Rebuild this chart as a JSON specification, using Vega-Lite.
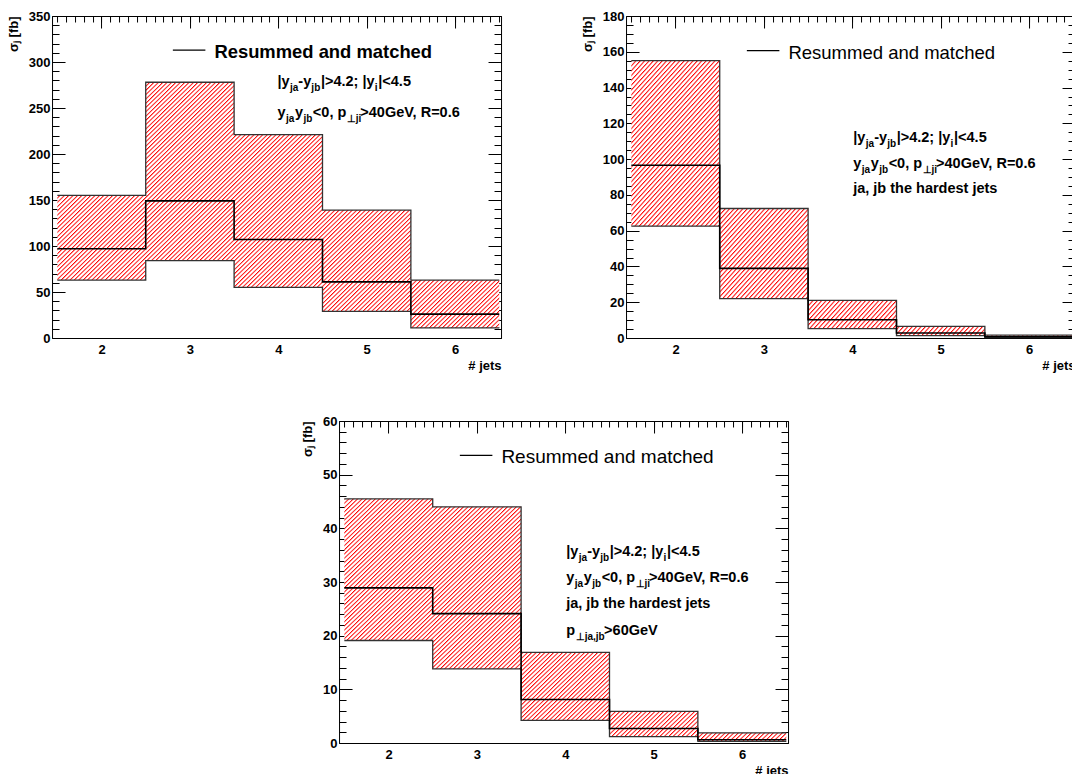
{
"$schema":"https://vega.github.io/schema/vega-lite/v6.json",
"background":"white",
"padding":{"left":6,"top":9,"right":0,"bottom":0},
"datasets":{
"h":[
{"p":1,"n":2,"lo":1.5,"hi":2.5,"up":155,"c":97,"dn":63},
{"p":1,"n":3,"lo":2.5,"hi":3.5,"up":278,"c":149,"dn":84},
{"p":1,"n":4,"lo":3.5,"hi":4.5,"up":221,"c":107,"dn":55},
{"p":1,"n":5,"lo":4.5,"hi":5.5,"up":139,"c":61,"dn":29},
{"p":1,"n":6,"lo":5.5,"hi":6.5,"up":63,"c":26,"dn":11},
{"p":2,"n":2,"lo":1.5,"hi":2.5,"up":155,"c":96.6,"dn":62.5},
{"p":2,"n":3,"lo":2.5,"hi":3.5,"up":72.4,"c":38.9,"dn":22},
{"p":2,"n":4,"lo":3.5,"hi":4.5,"up":21,"c":10.2,"dn":5.2},
{"p":2,"n":5,"lo":4.5,"hi":5.5,"up":6.5,"c":2.8,"dn":1.3},
{"p":2,"n":6,"lo":5.5,"hi":6.5,"up":1.6,"c":0.7,"dn":0.2},
{"p":3,"n":2,"lo":1.5,"hi":2.5,"up":45.5,"c":28.9,"dn":19.1},
{"p":3,"n":3,"lo":2.5,"hi":3.5,"up":44,"c":24.1,"dn":13.8},
{"p":3,"n":4,"lo":3.5,"hi":4.5,"up":16.9,"c":8.1,"dn":4.2},
{"p":3,"n":5,"lo":4.5,"hi":5.5,"up":5.9,"c":2.7,"dn":1.2},
{"p":3,"n":6,"lo":5.5,"hi":6.5,"up":1.9,"c":0.6,"dn":0.3}
],
"ann":[
{"p":1,"x":3.99,"y":274,"t":"|y","s":0},
{"p":1,"x":4.131,"y":274,"t":"ja","s":1},
{"p":1,"x":4.227,"y":274,"t":"-y","s":0},
{"p":1,"x":4.374,"y":274,"t":"jb","s":1},
{"p":1,"x":4.482,"y":274,"t":"|>4.2; |y","s":0},
{"p":1,"x":5.092,"y":274,"t":"i","s":1},
{"p":1,"x":5.131,"y":274,"t":"|<4.5","s":0},
{"p":1,"x":3.99,"y":240,"t":"y","s":0},
{"p":1,"x":4.086,"y":240,"t":"ja","s":1},
{"p":1,"x":4.188,"y":240,"t":"y","s":0},
{"p":1,"x":4.284,"y":240,"t":"jb","s":1},
{"p":1,"x":4.391,"y":240,"t":"<0, p","s":0},
{"p":1,"x":4.775,"y":240,"t":"⊥ji","s":1},
{"p":1,"x":4.928,"y":240,"t":">40GeV, R=0.6","s":0},
{"p":2,"x":4.01,"y":109.7,"t":"|y","s":0},
{"p":2,"x":4.151,"y":109.7,"t":"ja","s":1},
{"p":2,"x":4.247,"y":109.7,"t":"-y","s":0},
{"p":2,"x":4.394,"y":109.7,"t":"jb","s":1},
{"p":2,"x":4.502,"y":109.7,"t":"|>4.2; |y","s":0},
{"p":2,"x":5.112,"y":109.7,"t":"i","s":1},
{"p":2,"x":5.151,"y":109.7,"t":"|<4.5","s":0},
{"p":2,"x":4.01,"y":95.2,"t":"y","s":0},
{"p":2,"x":4.106,"y":95.2,"t":"ja","s":1},
{"p":2,"x":4.208,"y":95.2,"t":"y","s":0},
{"p":2,"x":4.304,"y":95.2,"t":"jb","s":1},
{"p":2,"x":4.411,"y":95.2,"t":"<0, p","s":0},
{"p":2,"x":4.795,"y":95.2,"t":"⊥ji","s":1},
{"p":2,"x":4.948,"y":95.2,"t":">40GeV, R=0.6","s":0},
{"p":2,"x":4.01,"y":80.9,"t":"ja, jb the hardest jets","s":0},
{"p":3,"x":4.01,"y":34.8,"t":"|y","s":0},
{"p":3,"x":4.151,"y":34.8,"t":"ja","s":1},
{"p":3,"x":4.247,"y":34.8,"t":"-y","s":0},
{"p":3,"x":4.394,"y":34.8,"t":"jb","s":1},
{"p":3,"x":4.502,"y":34.8,"t":"|>4.2; |y","s":0},
{"p":3,"x":5.112,"y":34.8,"t":"i","s":1},
{"p":3,"x":5.151,"y":34.8,"t":"|<4.5","s":0},
{"p":3,"x":4.01,"y":30.0,"t":"y","s":0},
{"p":3,"x":4.106,"y":30.0,"t":"ja","s":1},
{"p":3,"x":4.208,"y":30.0,"t":"y","s":0},
{"p":3,"x":4.304,"y":30.0,"t":"jb","s":1},
{"p":3,"x":4.411,"y":30.0,"t":"<0, p","s":0},
{"p":3,"x":4.795,"y":30.0,"t":"⊥ji","s":1},
{"p":3,"x":4.948,"y":30.0,"t":">40GeV, R=0.6","s":0},
{"p":3,"x":4.01,"y":25.2,"t":"ja, jb the hardest jets","s":0},
{"p":3,"x":4.01,"y":20.1,"t":"p","s":0},
{"p":3,"x":4.117,"y":20.1,"t":"⊥ja,jb","s":1},
{"p":3,"x":4.439,"y":20.1,"t":">60GeV","s":0}
]
},
"vconcat":[
{"hconcat":[
{
"width":449,"height":322,
"data":{"name":"h"},
"transform":[{"filter":"datum.p==1"},{"fold":["lo","hi"],"as":["edge","xe"]}],
"resolve":{"axis":{"x":"independent","y":"independent"}},
"layer":[
{"mark":{"type":"area"},
"encoding":{
"x":{"field":"xe","type":"quantitative","scale":{"domain":[1.44,6.52],"nice":false,"zero":false},"axis":{"orient":"bottom","values":[2,3,4,5,6],"ticks":false,"tickSize":0,"labelPadding":5,"title":"# jets","titleAnchor":"end","titlePadding":3}},
"y":{"field":"up","type":"quantitative","scale":{"domain":[0,350],"nice":false,"zero":false},"axis":{"orient":"left","values":[0,50,100,150,200,250,300,350],"offset":-13,"tickSize":13,"labelPadding":2,"title":"σⱼ [fb]","titleAnchor":"end","titlePadding":8}},
"y2":{"field":"dn"},
"order":{"value":null}}},
{"mark":{"type":"line","color":"#333","strokeWidth":1.3},
"encoding":{
"x":{"field":"xe","type":"quantitative","axis":{"orient":"top","values":[2,3,4,5,6],"offset":-12,"tickSize":12,"labels":false,"title":null}},
"y":{"field":"up","type":"quantitative","axis":{"orient":"left","values":[0,10,20,30,40,50,60,70,80,90,100,110,120,130,140,150,160,170,180,190,200,210,220,230,240,250,260,270,280,290,300,310,320,330,340,350],"offset":-7,"tickSize":7,"labels":false,"title":null}},
"order":{"value":null}}},
{"mark":{"type":"line","color":"#333","strokeWidth":1.3},
"encoding":{
"x":{"field":"xe","type":"quantitative","axis":{"orient":"top","values":[1.5,1.6,1.7,1.8,1.9,2,2.1,2.2,2.3,2.4,2.5,2.6,2.7,2.8,2.9,3,3.1,3.2,3.3,3.4,3.5,3.6,3.7,3.8,3.9,4,4.1,4.2,4.3,4.4,4.5,4.6,4.7,4.8,4.9,5,5.1,5.2,5.3,5.4,5.5,5.6,5.7,5.8,5.9,6,6.1,6.2,6.3,6.4,6.5],"offset":-6,"tickSize":6,"labels":false,"title":null}},
"y":{"field":"dn","type":"quantitative","axis":{"orient":"right","values":[0,50,100,150,200,250,300,350],"offset":-13,"tickSize":13,"labels":false,"title":null}},
"order":{"value":null}}},
{"mark":{"type":"line","color":"#000","strokeWidth":1.6},
"encoding":{
"x":{"field":"xe","type":"quantitative","axis":null},
"y":{"field":"c","type":"quantitative","axis":{"orient":"right","values":[0,10,20,30,40,50,60,70,80,90,100,110,120,130,140,150,160,170,180,190,200,210,220,230,240,250,260,270,280,290,300,310,320,330,340,350],"offset":-7,"tickSize":7,"labels":false,"title":null}},
"order":{"value":null}}},
{"data":{"values":[{}]},"mark":{"type":"rule","color":"#000","strokeWidth":1.3},"encoding":{"x":{"datum":2.807,"type":"quantitative","axis":null},"x2":{"datum":3.175},"y":{"datum":313,"type":"quantitative","axis":null}}},
{"data":{"values":[{}]},"mark":{"type":"text","text":"Resummed and matched","align":"left","baseline":"alphabetic","fontSize":18.4},"encoding":{"x":{"datum":3.277,"type":"quantitative","axis":null},"y":{"datum":304,"type":"quantitative","axis":null}}},
{"data":{"name":"ann"},"transform":[{"filter":"datum.p==1 && datum.s==0"}],"mark":{"type":"text","align":"left","baseline":"alphabetic","fontSize":14.5},"encoding":{"x":{"field":"x","type":"quantitative","axis":null},"y":{"field":"y","type":"quantitative","axis":null},"text":{"field":"t"}}},
{"data":{"name":"ann"},"transform":[{"filter":"datum.p==1 && datum.s==1"}],"mark":{"type":"text","align":"left","baseline":"alphabetic","fontSize":10,"dy":5},"encoding":{"x":{"field":"x","type":"quantitative","axis":null},"y":{"field":"y","type":"quantitative","axis":null},"text":{"field":"t"}}}
]
},
{
"width":449,"height":322,
"data":{"name":"h"},
"transform":[{"filter":"datum.p==2"},{"fold":["lo","hi"],"as":["edge","xe"]}],
"resolve":{"axis":{"x":"independent","y":"independent"}},
"layer":[
{"mark":{"type":"area"},
"encoding":{
"x":{"field":"xe","type":"quantitative","scale":{"domain":[1.44,6.52],"nice":false,"zero":false},"axis":{"orient":"bottom","values":[2,3,4,5,6],"ticks":false,"tickSize":0,"labelPadding":5,"title":"# jets","titleAnchor":"end","titlePadding":3}},
"y":{"field":"up","type":"quantitative","scale":{"domain":[0,180],"nice":false,"zero":false},"axis":{"orient":"left","values":[0,20,40,60,80,100,120,140,160,180],"offset":-13,"tickSize":13,"labelPadding":2,"title":"σⱼ [fb]","titleAnchor":"end","titlePadding":8}},
"y2":{"field":"dn"},
"order":{"value":null}}},
{"mark":{"type":"line","color":"#333","strokeWidth":1.3},
"encoding":{
"x":{"field":"xe","type":"quantitative","axis":{"orient":"top","values":[2,3,4,5,6],"offset":-12,"tickSize":12,"labels":false,"title":null}},
"y":{"field":"up","type":"quantitative","axis":{"orient":"left","values":[0,5,10,15,20,25,30,35,40,45,50,55,60,65,70,75,80,85,90,95,100,105,110,115,120,125,130,135,140,145,150,155,160,165,170,175,180],"offset":-7,"tickSize":7,"labels":false,"title":null}},
"order":{"value":null}}},
{"mark":{"type":"line","color":"#333","strokeWidth":1.3},
"encoding":{
"x":{"field":"xe","type":"quantitative","axis":{"orient":"top","values":[1.5,1.6,1.7,1.8,1.9,2,2.1,2.2,2.3,2.4,2.5,2.6,2.7,2.8,2.9,3,3.1,3.2,3.3,3.4,3.5,3.6,3.7,3.8,3.9,4,4.1,4.2,4.3,4.4,4.5,4.6,4.7,4.8,4.9,5,5.1,5.2,5.3,5.4,5.5,5.6,5.7,5.8,5.9,6,6.1,6.2,6.3,6.4,6.5],"offset":-6,"tickSize":6,"labels":false,"title":null}},
"y":{"field":"dn","type":"quantitative","axis":{"orient":"right","values":[0,20,40,60,80,100,120,140,160,180],"offset":-13,"tickSize":13,"labels":false,"title":null}},
"order":{"value":null}}},
{"mark":{"type":"line","color":"#000","strokeWidth":1.6},
"encoding":{
"x":{"field":"xe","type":"quantitative","axis":null},
"y":{"field":"c","type":"quantitative","axis":{"orient":"right","values":[0,5,10,15,20,25,30,35,40,45,50,55,60,65,70,75,80,85,90,95,100,105,110,115,120,125,130,135,140,145,150,155,160,165,170,175,180],"offset":-7,"tickSize":7,"labels":false,"title":null}},
"order":{"value":null}}},
{"data":{"values":[{}]},"mark":{"type":"rule","color":"#000","strokeWidth":1.3},"encoding":{"x":{"datum":2.807,"type":"quantitative","axis":null},"x2":{"datum":3.175},"y":{"datum":160.6,"type":"quantitative","axis":null}}},
{"data":{"values":[{}]},"mark":{"type":"text","text":"Resummed and matched","align":"left","baseline":"alphabetic","fontSize":18.5,"fontWeight":"normal"},"encoding":{"x":{"datum":3.277,"type":"quantitative","axis":null},"y":{"datum":155.8,"type":"quantitative","axis":null}}},
{"data":{"name":"ann"},"transform":[{"filter":"datum.p==2 && datum.s==0"}],"mark":{"type":"text","align":"left","baseline":"alphabetic","fontSize":14.5},"encoding":{"x":{"field":"x","type":"quantitative","axis":null},"y":{"field":"y","type":"quantitative","axis":null},"text":{"field":"t"}}},
{"data":{"name":"ann"},"transform":[{"filter":"datum.p==2 && datum.s==1"}],"mark":{"type":"text","align":"left","baseline":"alphabetic","fontSize":10,"dy":5},"encoding":{"x":{"field":"x","type":"quantitative","axis":null},"y":{"field":"y","type":"quantitative","axis":null},"text":{"field":"t"}}}
]
}
],"spacing":77},
{
"width":449,"height":322,
"data":{"name":"h"},
"transform":[{"filter":"datum.p==3"},{"fold":["lo","hi"],"as":["edge","xe"]}],
"resolve":{"axis":{"x":"independent","y":"independent"}},
"layer":[
{"mark":{"type":"area"},
"encoding":{
"x":{"field":"xe","type":"quantitative","scale":{"domain":[1.44,6.52],"nice":false,"zero":false},"axis":{"orient":"bottom","values":[2,3,4,5,6],"ticks":false,"tickSize":0,"labelPadding":5,"title":"# jets","titleAnchor":"end","titlePadding":3}},
"y":{"field":"up","type":"quantitative","scale":{"domain":[0,60],"nice":false,"zero":false},"axis":{"orient":"left","values":[0,10,20,30,40,50,60],"offset":-13,"tickSize":13,"labelPadding":2,"title":"σⱼ [fb]","titleAnchor":"end","titlePadding":8}},
"y2":{"field":"dn"},
"order":{"value":null}}},
{"mark":{"type":"line","color":"#333","strokeWidth":1.3},
"encoding":{
"x":{"field":"xe","type":"quantitative","axis":{"orient":"top","values":[2,3,4,5,6],"offset":-12,"tickSize":12,"labels":false,"title":null}},
"y":{"field":"up","type":"quantitative","axis":{"orient":"left","values":[0,2,4,6,8,10,12,14,16,18,20,22,24,26,28,30,32,34,36,38,40,42,44,46,48,50,52,54,56,58,60],"offset":-7,"tickSize":7,"labels":false,"title":null}},
"order":{"value":null}}},
{"mark":{"type":"line","color":"#333","strokeWidth":1.3},
"encoding":{
"x":{"field":"xe","type":"quantitative","axis":{"orient":"top","values":[1.5,1.6,1.7,1.8,1.9,2,2.1,2.2,2.3,2.4,2.5,2.6,2.7,2.8,2.9,3,3.1,3.2,3.3,3.4,3.5,3.6,3.7,3.8,3.9,4,4.1,4.2,4.3,4.4,4.5,4.6,4.7,4.8,4.9,5,5.1,5.2,5.3,5.4,5.5,5.6,5.7,5.8,5.9,6,6.1,6.2,6.3,6.4,6.5],"offset":-6,"tickSize":6,"labels":false,"title":null}},
"y":{"field":"dn","type":"quantitative","axis":{"orient":"right","values":[0,10,20,30,40,50,60],"offset":-13,"tickSize":13,"labels":false,"title":null}},
"order":{"value":null}}},
{"mark":{"type":"line","color":"#000","strokeWidth":1.6},
"encoding":{
"x":{"field":"xe","type":"quantitative","axis":null},
"y":{"field":"c","type":"quantitative","axis":{"orient":"right","values":[0,2,4,6,8,10,12,14,16,18,20,22,24,26,28,30,32,34,36,38,40,42,44,46,48,50,52,54,56,58,60],"offset":-7,"tickSize":7,"labels":false,"title":null}},
"order":{"value":null}}},
{"data":{"values":[{}]},"mark":{"type":"rule","color":"#000","strokeWidth":1.3},"encoding":{"x":{"datum":2.807,"type":"quantitative","axis":null},"x2":{"datum":3.175},"y":{"datum":53.6,"type":"quantitative","axis":null}}},
{"data":{"values":[{}]},"mark":{"type":"text","text":"Resummed and matched","align":"left","baseline":"alphabetic","fontSize":19,"fontWeight":"normal"},"encoding":{"x":{"datum":3.277,"type":"quantitative","axis":null},"y":{"datum":52.1,"type":"quantitative","axis":null}}},
{"data":{"name":"ann"},"transform":[{"filter":"datum.p==3 && datum.s==0"}],"mark":{"type":"text","align":"left","baseline":"alphabetic","fontSize":14.5},"encoding":{"x":{"field":"x","type":"quantitative","axis":null},"y":{"field":"y","type":"quantitative","axis":null},"text":{"field":"t"}}},
{"data":{"name":"ann"},"transform":[{"filter":"datum.p==3 && datum.s==1"}],"mark":{"type":"text","align":"left","baseline":"alphabetic","fontSize":10,"dy":5},"encoding":{"x":{"field":"x","type":"quantitative","axis":null},"y":{"field":"y","type":"quantitative","axis":null},"text":{"field":"t"}}}
]
}
],
"spacing":41,
"center":true,
"config":{
"view":{"stroke":"#000","strokeWidth":1},
"axis":{"domain":false,"grid":false,"tickColor":"#000","tickWidth":1,"labelFont":"Liberation Sans","labelFontSize":13,"labelFontWeight":"bold","labelColor":"#000","labelFlush":false,"labelOverlap":false,"titleFont":"Liberation Sans","titleFontSize":13,"titleFontWeight":"bold","titleColor":"#000","zindex":1},
"text":{"font":"Liberation Sans","fontWeight":"bold","color":"#000"},
"area":{"stroke":null,"opacity":1,"fill":{"gradient":"linear","x1":0,"y1":0,"x2":1.2,"y2":0.684,"stops":[
{"offset":0,"color":"red"},{"offset":0.0025,"color":"#fff"},{"offset":0.005,"color":"#fff"},{"offset":0.00625,"color":"red"},{"offset":0.00875,"color":"#fff"},{"offset":0.01125,"color":"#fff"},{"offset":0.0125,"color":"red"},{"offset":0.015,"color":"#fff"},{"offset":0.0175,"color":"#fff"},{"offset":0.01875,"color":"red"},{"offset":0.02125,"color":"#fff"},{"offset":0.02375,"color":"#fff"},{"offset":0.025,"color":"red"},{"offset":0.0275,"color":"#fff"},{"offset":0.03,"color":"#fff"},{"offset":0.03125,"color":"red"},{"offset":0.03375,"color":"#fff"},{"offset":0.03625,"color":"#fff"},{"offset":0.0375,"color":"red"},{"offset":0.04,"color":"#fff"},{"offset":0.0425,"color":"#fff"},{"offset":0.04375,"color":"red"},{"offset":0.04625,"color":"#fff"},{"offset":0.04875,"color":"#fff"},
{"offset":0.05,"color":"red"},{"offset":0.0525,"color":"#fff"},{"offset":0.055,"color":"#fff"},{"offset":0.05625,"color":"red"},{"offset":0.05875,"color":"#fff"},{"offset":0.06125,"color":"#fff"},{"offset":0.0625,"color":"red"},{"offset":0.065,"color":"#fff"},{"offset":0.0675,"color":"#fff"},{"offset":0.06875,"color":"red"},{"offset":0.07125,"color":"#fff"},{"offset":0.07375,"color":"#fff"},{"offset":0.075,"color":"red"},{"offset":0.0775,"color":"#fff"},{"offset":0.08,"color":"#fff"},{"offset":0.08125,"color":"red"},{"offset":0.08375,"color":"#fff"},{"offset":0.08625,"color":"#fff"},{"offset":0.0875,"color":"red"},{"offset":0.09,"color":"#fff"},{"offset":0.0925,"color":"#fff"},{"offset":0.09375,"color":"red"},{"offset":0.09625,"color":"#fff"},{"offset":0.09875,"color":"#fff"},
{"offset":0.1,"color":"red"},{"offset":0.1025,"color":"#fff"},{"offset":0.105,"color":"#fff"},{"offset":0.10625,"color":"red"},{"offset":0.10875,"color":"#fff"},{"offset":0.11125,"color":"#fff"},{"offset":0.1125,"color":"red"},{"offset":0.115,"color":"#fff"},{"offset":0.1175,"color":"#fff"},{"offset":0.11875,"color":"red"},{"offset":0.12125,"color":"#fff"},{"offset":0.12375,"color":"#fff"},{"offset":0.125,"color":"red"},{"offset":0.1275,"color":"#fff"},{"offset":0.13,"color":"#fff"},{"offset":0.13125,"color":"red"},{"offset":0.13375,"color":"#fff"},{"offset":0.13625,"color":"#fff"},{"offset":0.1375,"color":"red"},{"offset":0.14,"color":"#fff"},{"offset":0.1425,"color":"#fff"},{"offset":0.14375,"color":"red"},{"offset":0.14625,"color":"#fff"},{"offset":0.14875,"color":"#fff"},
{"offset":0.15,"color":"red"},{"offset":0.1525,"color":"#fff"},{"offset":0.155,"color":"#fff"},{"offset":0.15625,"color":"red"},{"offset":0.15875,"color":"#fff"},{"offset":0.16125,"color":"#fff"},{"offset":0.1625,"color":"red"},{"offset":0.165,"color":"#fff"},{"offset":0.1675,"color":"#fff"},{"offset":0.16875,"color":"red"},{"offset":0.17125,"color":"#fff"},{"offset":0.17375,"color":"#fff"},{"offset":0.175,"color":"red"},{"offset":0.1775,"color":"#fff"},{"offset":0.18,"color":"#fff"},{"offset":0.18125,"color":"red"},{"offset":0.18375,"color":"#fff"},{"offset":0.18625,"color":"#fff"},{"offset":0.1875,"color":"red"},{"offset":0.19,"color":"#fff"},{"offset":0.1925,"color":"#fff"},{"offset":0.19375,"color":"red"},{"offset":0.19625,"color":"#fff"},{"offset":0.19875,"color":"#fff"},
{"offset":0.2,"color":"red"},{"offset":0.2025,"color":"#fff"},{"offset":0.205,"color":"#fff"},{"offset":0.20625,"color":"red"},{"offset":0.20875,"color":"#fff"},{"offset":0.21125,"color":"#fff"},{"offset":0.2125,"color":"red"},{"offset":0.215,"color":"#fff"},{"offset":0.2175,"color":"#fff"},{"offset":0.21875,"color":"red"},{"offset":0.22125,"color":"#fff"},{"offset":0.22375,"color":"#fff"},{"offset":0.225,"color":"red"},{"offset":0.2275,"color":"#fff"},{"offset":0.23,"color":"#fff"},{"offset":0.23125,"color":"red"},{"offset":0.23375,"color":"#fff"},{"offset":0.23625,"color":"#fff"},{"offset":0.2375,"color":"red"},{"offset":0.24,"color":"#fff"},{"offset":0.2425,"color":"#fff"},{"offset":0.24375,"color":"red"},{"offset":0.24625,"color":"#fff"},{"offset":0.24875,"color":"#fff"},
{"offset":0.25,"color":"red"},{"offset":0.2525,"color":"#fff"},{"offset":0.255,"color":"#fff"},{"offset":0.25625,"color":"red"},{"offset":0.25875,"color":"#fff"},{"offset":0.26125,"color":"#fff"},{"offset":0.2625,"color":"red"},{"offset":0.265,"color":"#fff"},{"offset":0.2675,"color":"#fff"},{"offset":0.26875,"color":"red"},{"offset":0.27125,"color":"#fff"},{"offset":0.27375,"color":"#fff"},{"offset":0.275,"color":"red"},{"offset":0.2775,"color":"#fff"},{"offset":0.28,"color":"#fff"},{"offset":0.28125,"color":"red"},{"offset":0.28375,"color":"#fff"},{"offset":0.28625,"color":"#fff"},{"offset":0.2875,"color":"red"},{"offset":0.29,"color":"#fff"},{"offset":0.2925,"color":"#fff"},{"offset":0.29375,"color":"red"},{"offset":0.29625,"color":"#fff"},{"offset":0.29875,"color":"#fff"},
{"offset":0.3,"color":"red"},{"offset":0.3025,"color":"#fff"},{"offset":0.305,"color":"#fff"},{"offset":0.30625,"color":"red"},{"offset":0.30875,"color":"#fff"},{"offset":0.31125,"color":"#fff"},{"offset":0.3125,"color":"red"},{"offset":0.315,"color":"#fff"},{"offset":0.3175,"color":"#fff"},{"offset":0.31875,"color":"red"},{"offset":0.32125,"color":"#fff"},{"offset":0.32375,"color":"#fff"},{"offset":0.325,"color":"red"},{"offset":0.3275,"color":"#fff"},{"offset":0.33,"color":"#fff"},{"offset":0.33125,"color":"red"},{"offset":0.33375,"color":"#fff"},{"offset":0.33625,"color":"#fff"},{"offset":0.3375,"color":"red"},{"offset":0.34,"color":"#fff"},{"offset":0.3425,"color":"#fff"},{"offset":0.34375,"color":"red"},{"offset":0.34625,"color":"#fff"},{"offset":0.34875,"color":"#fff"},
{"offset":0.35,"color":"red"},{"offset":0.3525,"color":"#fff"},{"offset":0.355,"color":"#fff"},{"offset":0.35625,"color":"red"},{"offset":0.35875,"color":"#fff"},{"offset":0.36125,"color":"#fff"},{"offset":0.3625,"color":"red"},{"offset":0.365,"color":"#fff"},{"offset":0.3675,"color":"#fff"},{"offset":0.36875,"color":"red"},{"offset":0.37125,"color":"#fff"},{"offset":0.37375,"color":"#fff"},{"offset":0.375,"color":"red"},{"offset":0.3775,"color":"#fff"},{"offset":0.38,"color":"#fff"},{"offset":0.38125,"color":"red"},{"offset":0.38375,"color":"#fff"},{"offset":0.38625,"color":"#fff"},{"offset":0.3875,"color":"red"},{"offset":0.39,"color":"#fff"},{"offset":0.3925,"color":"#fff"},{"offset":0.39375,"color":"red"},{"offset":0.39625,"color":"#fff"},{"offset":0.39875,"color":"#fff"},
{"offset":0.4,"color":"red"},{"offset":0.4025,"color":"#fff"},{"offset":0.405,"color":"#fff"},{"offset":0.40625,"color":"red"},{"offset":0.40875,"color":"#fff"},{"offset":0.41125,"color":"#fff"},{"offset":0.4125,"color":"red"},{"offset":0.415,"color":"#fff"},{"offset":0.4175,"color":"#fff"},{"offset":0.41875,"color":"red"},{"offset":0.42125,"color":"#fff"},{"offset":0.42375,"color":"#fff"},{"offset":0.425,"color":"red"},{"offset":0.4275,"color":"#fff"},{"offset":0.43,"color":"#fff"},{"offset":0.43125,"color":"red"},{"offset":0.43375,"color":"#fff"},{"offset":0.43625,"color":"#fff"},{"offset":0.4375,"color":"red"},{"offset":0.44,"color":"#fff"},{"offset":0.4425,"color":"#fff"},{"offset":0.44375,"color":"red"},{"offset":0.44625,"color":"#fff"},{"offset":0.44875,"color":"#fff"},
{"offset":0.45,"color":"red"},{"offset":0.4525,"color":"#fff"},{"offset":0.455,"color":"#fff"},{"offset":0.45625,"color":"red"},{"offset":0.45875,"color":"#fff"},{"offset":0.46125,"color":"#fff"},{"offset":0.4625,"color":"red"},{"offset":0.465,"color":"#fff"},{"offset":0.4675,"color":"#fff"},{"offset":0.46875,"color":"red"},{"offset":0.47125,"color":"#fff"},{"offset":0.47375,"color":"#fff"},{"offset":0.475,"color":"red"},{"offset":0.4775,"color":"#fff"},{"offset":0.48,"color":"#fff"},{"offset":0.48125,"color":"red"},{"offset":0.48375,"color":"#fff"},{"offset":0.48625,"color":"#fff"},{"offset":0.4875,"color":"red"},{"offset":0.49,"color":"#fff"},{"offset":0.4925,"color":"#fff"},{"offset":0.49375,"color":"red"},{"offset":0.49625,"color":"#fff"},{"offset":0.49875,"color":"#fff"},
{"offset":0.5,"color":"red"},{"offset":0.5025,"color":"#fff"},{"offset":0.505,"color":"#fff"},{"offset":0.50625,"color":"red"},{"offset":0.50875,"color":"#fff"},{"offset":0.51125,"color":"#fff"},{"offset":0.5125,"color":"red"},{"offset":0.515,"color":"#fff"},{"offset":0.5175,"color":"#fff"},{"offset":0.51875,"color":"red"},{"offset":0.52125,"color":"#fff"},{"offset":0.52375,"color":"#fff"},{"offset":0.525,"color":"red"},{"offset":0.5275,"color":"#fff"},{"offset":0.53,"color":"#fff"},{"offset":0.53125,"color":"red"},{"offset":0.53375,"color":"#fff"},{"offset":0.53625,"color":"#fff"},{"offset":0.5375,"color":"red"},{"offset":0.54,"color":"#fff"},{"offset":0.5425,"color":"#fff"},{"offset":0.54375,"color":"red"},{"offset":0.54625,"color":"#fff"},{"offset":0.54875,"color":"#fff"},
{"offset":0.55,"color":"red"},{"offset":0.5525,"color":"#fff"},{"offset":0.555,"color":"#fff"},{"offset":0.55625,"color":"red"},{"offset":0.55875,"color":"#fff"},{"offset":0.56125,"color":"#fff"},{"offset":0.5625,"color":"red"},{"offset":0.565,"color":"#fff"},{"offset":0.5675,"color":"#fff"},{"offset":0.56875,"color":"red"},{"offset":0.57125,"color":"#fff"},{"offset":0.57375,"color":"#fff"},{"offset":0.575,"color":"red"},{"offset":0.5775,"color":"#fff"},{"offset":0.58,"color":"#fff"},{"offset":0.58125,"color":"red"},{"offset":0.58375,"color":"#fff"},{"offset":0.58625,"color":"#fff"},{"offset":0.5875,"color":"red"},{"offset":0.59,"color":"#fff"},{"offset":0.5925,"color":"#fff"},{"offset":0.59375,"color":"red"},{"offset":0.59625,"color":"#fff"},{"offset":0.59875,"color":"#fff"},
{"offset":0.6,"color":"red"},{"offset":0.6025,"color":"#fff"},{"offset":0.605,"color":"#fff"},{"offset":0.60625,"color":"red"},{"offset":0.60875,"color":"#fff"},{"offset":0.61125,"color":"#fff"},{"offset":0.6125,"color":"red"},{"offset":0.615,"color":"#fff"},{"offset":0.6175,"color":"#fff"},{"offset":0.61875,"color":"red"},{"offset":0.62125,"color":"#fff"},{"offset":0.62375,"color":"#fff"},{"offset":0.625,"color":"red"},{"offset":0.6275,"color":"#fff"},{"offset":0.63,"color":"#fff"},{"offset":0.63125,"color":"red"},{"offset":0.63375,"color":"#fff"},{"offset":0.63625,"color":"#fff"},{"offset":0.6375,"color":"red"},{"offset":0.64,"color":"#fff"},{"offset":0.6425,"color":"#fff"},{"offset":0.64375,"color":"red"},{"offset":0.64625,"color":"#fff"},{"offset":0.64875,"color":"#fff"},
{"offset":0.65,"color":"red"},{"offset":0.6525,"color":"#fff"},{"offset":0.655,"color":"#fff"},{"offset":0.65625,"color":"red"},{"offset":0.65875,"color":"#fff"},{"offset":0.66125,"color":"#fff"},{"offset":0.6625,"color":"red"},{"offset":0.665,"color":"#fff"},{"offset":0.6675,"color":"#fff"},{"offset":0.66875,"color":"red"},{"offset":0.67125,"color":"#fff"},{"offset":0.67375,"color":"#fff"},{"offset":0.675,"color":"red"},{"offset":0.6775,"color":"#fff"},{"offset":0.68,"color":"#fff"},{"offset":0.68125,"color":"red"},{"offset":0.68375,"color":"#fff"},{"offset":0.68625,"color":"#fff"},{"offset":0.6875,"color":"red"},{"offset":0.69,"color":"#fff"},{"offset":0.6925,"color":"#fff"},{"offset":0.69375,"color":"red"},{"offset":0.69625,"color":"#fff"},{"offset":0.69875,"color":"#fff"},
{"offset":0.7,"color":"red"},{"offset":0.7025,"color":"#fff"},{"offset":0.705,"color":"#fff"},{"offset":0.70625,"color":"red"},{"offset":0.70875,"color":"#fff"},{"offset":0.71125,"color":"#fff"},{"offset":0.7125,"color":"red"},{"offset":0.715,"color":"#fff"},{"offset":0.7175,"color":"#fff"},{"offset":0.71875,"color":"red"},{"offset":0.72125,"color":"#fff"},{"offset":0.72375,"color":"#fff"},{"offset":0.725,"color":"red"},{"offset":0.7275,"color":"#fff"},{"offset":0.73,"color":"#fff"},{"offset":0.73125,"color":"red"},{"offset":0.73375,"color":"#fff"},{"offset":0.73625,"color":"#fff"},{"offset":0.7375,"color":"red"},{"offset":0.74,"color":"#fff"},{"offset":0.7425,"color":"#fff"},{"offset":0.74375,"color":"red"},{"offset":0.74625,"color":"#fff"},{"offset":0.74875,"color":"#fff"},
{"offset":0.75,"color":"red"},{"offset":0.7525,"color":"#fff"},{"offset":0.755,"color":"#fff"},{"offset":0.75625,"color":"red"},{"offset":0.75875,"color":"#fff"},{"offset":0.76125,"color":"#fff"},{"offset":0.7625,"color":"red"},{"offset":0.765,"color":"#fff"},{"offset":0.7675,"color":"#fff"},{"offset":0.76875,"color":"red"},{"offset":0.77125,"color":"#fff"},{"offset":0.77375,"color":"#fff"},{"offset":0.775,"color":"red"},{"offset":0.7775,"color":"#fff"},{"offset":0.78,"color":"#fff"},{"offset":0.78125,"color":"red"},{"offset":0.78375,"color":"#fff"},{"offset":0.78625,"color":"#fff"},{"offset":0.7875,"color":"red"},{"offset":0.79,"color":"#fff"},{"offset":0.7925,"color":"#fff"},{"offset":0.79375,"color":"red"},{"offset":0.79625,"color":"#fff"},{"offset":0.79875,"color":"#fff"},
{"offset":0.8,"color":"red"},{"offset":0.8025,"color":"#fff"},{"offset":0.805,"color":"#fff"},{"offset":0.80625,"color":"red"},{"offset":0.80875,"color":"#fff"},{"offset":0.81125,"color":"#fff"},{"offset":0.8125,"color":"red"},{"offset":0.815,"color":"#fff"},{"offset":0.8175,"color":"#fff"},{"offset":0.81875,"color":"red"},{"offset":0.82125,"color":"#fff"},{"offset":0.82375,"color":"#fff"},{"offset":0.825,"color":"red"},{"offset":0.8275,"color":"#fff"},{"offset":0.83,"color":"#fff"},{"offset":0.83125,"color":"red"},{"offset":0.83375,"color":"#fff"},{"offset":0.83625,"color":"#fff"},{"offset":0.8375,"color":"red"},{"offset":0.84,"color":"#fff"},{"offset":0.8425,"color":"#fff"},{"offset":0.84375,"color":"red"},{"offset":0.84625,"color":"#fff"},{"offset":0.84875,"color":"#fff"},
{"offset":0.85,"color":"red"},{"offset":0.8525,"color":"#fff"},{"offset":0.855,"color":"#fff"},{"offset":0.85625,"color":"red"},{"offset":0.85875,"color":"#fff"},{"offset":0.86125,"color":"#fff"},{"offset":0.8625,"color":"red"},{"offset":0.865,"color":"#fff"},{"offset":0.8675,"color":"#fff"},{"offset":0.86875,"color":"red"},{"offset":0.87125,"color":"#fff"},{"offset":0.87375,"color":"#fff"},{"offset":0.875,"color":"red"},{"offset":0.8775,"color":"#fff"},{"offset":0.88,"color":"#fff"},{"offset":0.88125,"color":"red"},{"offset":0.88375,"color":"#fff"},{"offset":0.88625,"color":"#fff"},{"offset":0.8875,"color":"red"},{"offset":0.89,"color":"#fff"},{"offset":0.8925,"color":"#fff"},{"offset":0.89375,"color":"red"},{"offset":0.89625,"color":"#fff"},{"offset":0.89875,"color":"#fff"},
{"offset":0.9,"color":"red"},{"offset":0.9025,"color":"#fff"},{"offset":0.905,"color":"#fff"},{"offset":0.90625,"color":"red"},{"offset":0.90875,"color":"#fff"},{"offset":0.91125,"color":"#fff"},{"offset":0.9125,"color":"red"},{"offset":0.915,"color":"#fff"},{"offset":0.9175,"color":"#fff"},{"offset":0.91875,"color":"red"},{"offset":0.92125,"color":"#fff"},{"offset":0.92375,"color":"#fff"},{"offset":0.925,"color":"red"},{"offset":0.9275,"color":"#fff"},{"offset":0.93,"color":"#fff"},{"offset":0.93125,"color":"red"},{"offset":0.93375,"color":"#fff"},{"offset":0.93625,"color":"#fff"},{"offset":0.9375,"color":"red"},{"offset":0.94,"color":"#fff"},{"offset":0.9425,"color":"#fff"},{"offset":0.94375,"color":"red"},{"offset":0.94625,"color":"#fff"},{"offset":0.94875,"color":"#fff"},
{"offset":0.95,"color":"red"},{"offset":0.9525,"color":"#fff"},{"offset":0.955,"color":"#fff"},{"offset":0.95625,"color":"red"},{"offset":0.95875,"color":"#fff"},{"offset":0.96125,"color":"#fff"},{"offset":0.9625,"color":"red"},{"offset":0.965,"color":"#fff"},{"offset":0.9675,"color":"#fff"},{"offset":0.96875,"color":"red"},{"offset":0.97125,"color":"#fff"},{"offset":0.97375,"color":"#fff"},{"offset":0.975,"color":"red"},{"offset":0.9775,"color":"#fff"},{"offset":0.98,"color":"#fff"},{"offset":0.98125,"color":"red"},{"offset":0.98375,"color":"#fff"},{"offset":0.98625,"color":"#fff"},{"offset":0.9875,"color":"red"},{"offset":0.99,"color":"#fff"},{"offset":0.9925,"color":"#fff"},{"offset":0.99375,"color":"red"},{"offset":0.99625,"color":"#fff"},{"offset":0.99875,"color":"#fff"},
{"offset":1,"color":"red"}
]}}
}
}
